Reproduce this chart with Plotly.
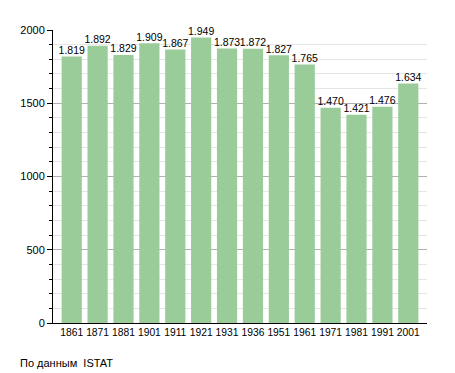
import plotly.graph_objects as go

years = ["1861", "1871", "1881", "1901", "1911", "1921", "1931", "1936", "1951", "1961", "1971", "1981", "1991", "2001"]
population = [1819, 1892, 1829, 1909, 1867, 1949, 1873, 1872, 1827, 1765, 1470, 1421, 1476, 1634]
labels = ["1.819", "1.892", "1.829", "1.909", "1.867", "1.949", "1.873", "1.872", "1.827", "1.765", "1.470", "1.421", "1.476", "1.634"]
source_text = "По данным  ISTAT"

FONT = "Liberation Sans, Arial"
W, H = 455, 373
L, R, T, B = 43, 36, 22, 58
plot_w = W - L - R
plot_h = H - T - B

fig = go.Figure()
fig.add_trace(go.Bar(
    x=years, y=population,
    marker=dict(color="#99cc99", line=dict(width=0)),
    hoverinfo="x+y",
))
fig.add_trace(go.Scatter(
    x=years, y=population, text=labels, mode="text", textposition="top center",
    textfont=dict(size=10.5, color="black", family=FONT),
    cliponaxis=False, hoverinfo="skip",
))
fig.update_layout(
    width=W, height=H,
    margin=dict(l=L, r=R, t=T, b=B),
    paper_bgcolor="white", plot_bgcolor="white",
    bargap=0.22,
    showlegend=False,
    font=dict(family=FONT, size=11, color="black"),
    xaxis=dict(showline=True, linecolor="black", linewidth=1, ticks="", tickangle=0, tickfont=dict(size=10.3)),
    yaxis=dict(range=[0, 2000], tickvals=[0, 500, 1000, 1500, 2000], showline=True, linecolor="black",
               linewidth=1, ticks="outside", ticklen=5, tickcolor="black", gridcolor="#b0b0b0",
               zeroline=False,
               minor=dict(dtick=100, showgrid=True, gridcolor="#e6e6e6", ticks="outside", ticklen=3, tickcolor="black")),
    annotations=[dict(text=source_text, xref="paper", yref="paper",
                      x=(8 - L) / plot_w, y=(H - B - 355) / plot_h,
                      xanchor="left", yanchor="middle", showarrow=False,
                      font=dict(size=11, family=FONT))],
)
fig.write_html("out.html")
